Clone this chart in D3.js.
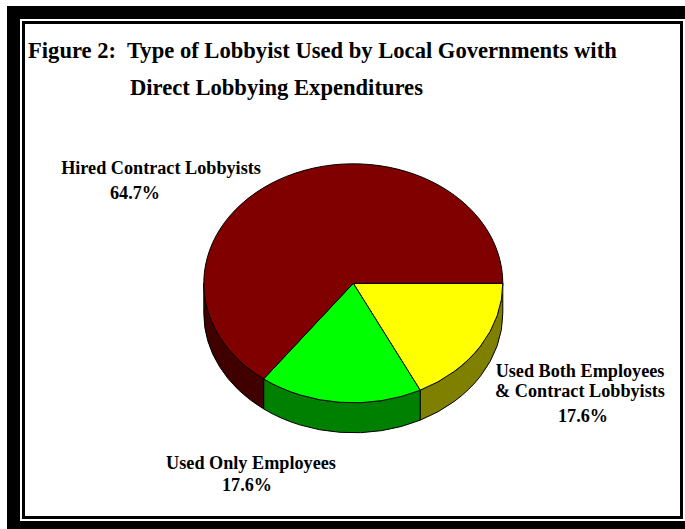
<!DOCTYPE html>
<html><head><meta charset="utf-8">
<script src="https://cdn.jsdelivr.net/npm/d3@7"></script>
<style>html,body{margin:0;padding:0;background:#fff;overflow:hidden}svg{display:block}text{font-family:"Liberation Serif",serif;font-weight:bold;fill:#000}</style>
</head><body><div id="c"></div>
<script>
const categories = ["Used Both Employees & Contract Lobbyists","Used Only Employees","Hired Contract Lobbyists"];
const values = [17.6,17.6,64.7];
const topColors = ["#ffff00","#00ff00","#800000"];
const sideColors = ["#808000","#008000","#400000"];
const titleLines = ["Figure 2:  Type of Lobbyist Used by Local Governments with","Direct Lobbying Expenditures"];
const labelLines = [["Used Both Employees","& Contract Lobbyists","17.6%"],["Used Only Employees","17.6%"],["Hired Contract Lobbyists","64.7%"]];

const W=685,H=529;
const svg=d3.select("#c").append("svg").attr("width",W).attr("height",H).attr("viewBox",[0,0,W,H]);
svg.append("rect").attr("width",W).attr("height",H).attr("fill","#fff");

// frame
svg.append("path").attr("fill","#000").attr("fill-rule","evenodd")
  .attr("d","M7 6H685V19H20V521H685V529H7Z");
svg.append("rect").attr("x",23.5).attr("y",22.5).attr("width",658).attr("height",495)
  .attr("fill","#fff").attr("stroke","#000").attr("stroke-width",3);

// title
svg.append("text").attr("x",28).attr("y",58).attr("font-size",22.6).style("white-space","pre").text(titleLines[0]);
svg.append("text").attr("x",130).attr("y",95).attr("font-size",22.6).text(titleLines[1]);

// pie
const cx=353.3,cy=283.3,rx=149.5,ry=119.5,depth=30;
const pie=d3.pie().sort(null).startAngle(Math.PI/2).endAngle(Math.PI/2+2*Math.PI);
const arcs=pie(values);
const px=a=>cx+rx*Math.sin(a), py=a=>cy-ry*Math.cos(a);
const g=svg.append("g").attr("stroke","#000").attr("stroke-width",1).attr("stroke-linejoin","round");

// side walls: only the front half of the ellipse (angles PI/2 .. 3PI/2)
arcs.forEach((d,i)=>{
  const a0=Math.max(d.startAngle,Math.PI/2),a1=Math.min(d.endAngle,3*Math.PI/2);
  if(a1<=a0) return;
  const la=(a1-a0)>Math.PI?1:0;
  g.append("path").attr("fill",sideColors[i]).attr("d",
    `M${px(a0)} ${py(a0)}A${rx} ${ry} 0 ${la} 1 ${px(a1)} ${py(a1)}L${px(a1)} ${py(a1)+depth}A${rx} ${ry} 0 ${la} 0 ${px(a0)} ${py(a0)+depth}Z`);
});
// top faces
arcs.forEach((d,i)=>{
  const la=(d.endAngle-d.startAngle)>Math.PI?1:0;
  g.append("path").attr("fill",topColors[i]).attr("d",
    `M${cx} ${cy}L${px(d.startAngle)} ${py(d.startAngle)}A${rx} ${ry} 0 ${la} 1 ${px(d.endAngle)} ${py(d.endAngle)}Z`);
});

// labels
const labelX=[[580,580,583],[251,247],[161,135]];
const labelY=[[377,397,422],[469,491],[174,199]];
labelLines.forEach((lines,i)=>lines.forEach((t,j)=>{
  svg.append("text").attr("x",labelX[i][j]).attr("y",labelY[i][j]).attr("text-anchor","middle").attr("font-size",18.2).text(t);
}));
</script></body></html>
